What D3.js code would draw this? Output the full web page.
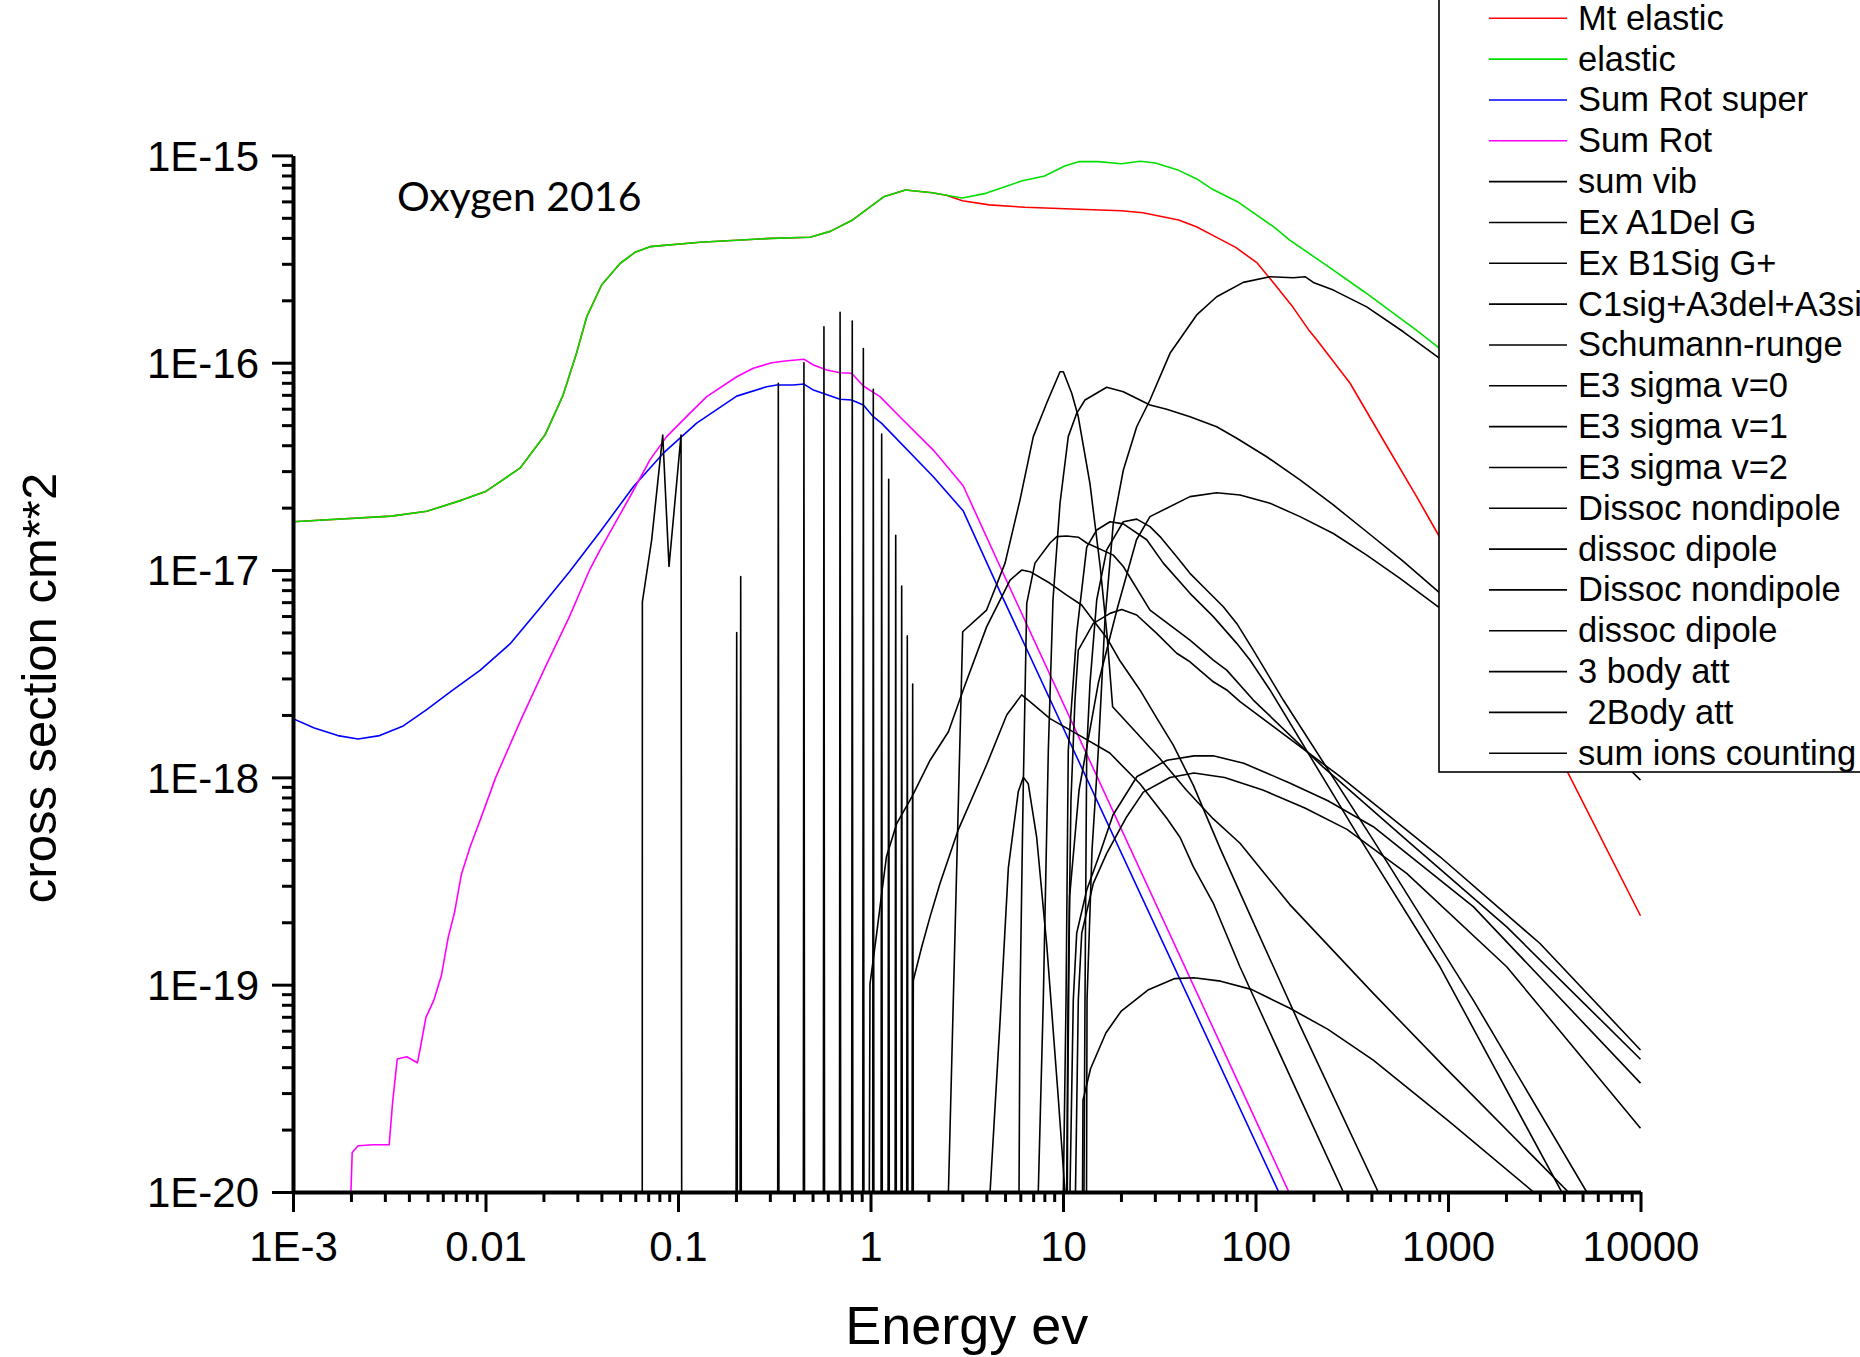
<!DOCTYPE html>
<meta charset="utf-8">
<script src="https://d3js.org/d3.v7.min.js"></script>
<style>
  body { margin: 0; background: #fff; }
</style>
<div id="chart"></div>
<script>
// energy in eV, cross section in cm^2
var energyTicks = [1e-3, 1e-2, 1e-1, 1, 10, 100, 1000, 10000];
var energyLabels = ["1E-3", "0.01", "0.1", "1", "10", "100", "1000", "10000"];
var sigmaTicks = [1e-20, 1e-19, 1e-18, 1e-17, 1e-16, 1e-15];
var sigmaLabels = ["1E-20", "1E-19", "1E-18", "1E-17", "1E-16", "1E-15"];

var legendNames = ["Mt elastic", "elastic", "Sum Rot super", "Sum Rot", "sum vib", "Ex A1Del G",
  "Ex B1Sig G+", "C1sig+A3del+A3sig", "Schumann-runge", "E3 sigma v=0", "E3 sigma v=1",
  "E3 sigma v=2", "Dissoc nondipole", "dissoc dipole", "Dissoc nondipole", "dissoc dipole",
  "3 body att", " 2Body att", "sum ions counting"];
var legendColors = ["#ff0000", "#00e000", "#0000ff", "#ff00ff", "#000", "#000", "#000", "#000",
  "#000", "#000", "#000", "#000", "#000", "#000", "#000", "#000", "#000", "#000", "#000"];

var mtElastic = [[0.001,1.71e-17],[0.00324,1.82e-17],[0.00496,1.92e-17],[0.0076,2.18e-17],[0.01,2.39e-17],
  [0.0151,3.10e-17],[0.0204,4.49e-17],[0.0253,6.98e-17],[0.0297,1.11e-16],[0.0336,1.67e-16],[0.0401,2.37e-16],
  [0.05,3.01e-16],[0.0598,3.41e-16],[0.0716,3.63e-16],[0.13,3.81e-16],[0.304,3.98e-16],[0.485,4.03e-16],
  [0.618,4.3e-16],[0.798,4.85e-16],[1.17,6.31e-16],[1.42,6.68e-16],[1.52,6.81e-16],[2.09,6.6e-16],
  [2.48,6.42e-16],[3.0,6.04e-16],[4.14,5.77e-16],[6.35,5.62e-16],[12.05,5.5e-16],[20.1,5.41e-16],
  [26.0,5.29e-16],[39.9,4.88e-16],[49.3,4.53e-16],[61.1,4.08e-16],[78.9,3.6e-16],[102,3.03e-16],
  [121,2.5e-16],[156,1.86e-16],[189,1.44e-16],[208,1.29e-16],[310,7.96e-17],[461,4.24e-17],
  [687,2.26e-17],[891,1.48e-17],[4200,1.05e-18],[10000,2.15e-19]];

var elastic = [[0.001,1.71e-17],[0.00324,1.82e-17],[0.00496,1.92e-17],[0.0076,2.18e-17],[0.01,2.39e-17],
  [0.0151,3.10e-17],[0.0204,4.49e-17],[0.0253,6.98e-17],[0.0297,1.11e-16],[0.0336,1.67e-16],[0.0401,2.37e-16],
  [0.05,3.01e-16],[0.0598,3.41e-16],[0.0716,3.63e-16],[0.13,3.81e-16],[0.304,3.98e-16],[0.485,4.03e-16],
  [0.618,4.3e-16],[0.798,4.85e-16],[1.17,6.31e-16],[1.42,6.68e-16],[1.52,6.81e-16],[2.09,6.6e-16],
  [3.0,6.23e-16],[3.97,6.56e-16],[4.91,7.02e-16],[6.08,7.52e-16],[8.02,7.96e-16],[10.2,8.89e-16],
  [12.05,9.33e-16],[15.2,9.33e-16],[20.1,9.12e-16],[25.1,9.37e-16],[30.2,9.19e-16],[39.9,8.47e-16],
  [49.3,7.72e-16],[59.8,6.86e-16],[80.6,5.98e-16],[124,4.53e-16],[150,3.91e-16],[240,2.9e-16],
  [367,2.2e-16],[682,1.44e-16],[887,1.19e-16],[3000,5e-17],[10000,2.2e-17]];

var sumRotSuper = [[0.001,1.92e-18],[0.00129,1.73e-18],[0.00171,1.59e-18],[0.00218,1.53e-18],[0.00282,1.59e-18],
  [0.00374,1.77e-18],[0.00497,2.13e-18],[0.00659,2.59e-18],[0.0094,3.29e-18],[0.0134,4.4e-18],[0.0191,6.53e-18],
  [0.0273,9.82e-18],[0.0394,1.53e-17],[0.0586,2.52e-17],[0.0839,3.66e-17],[0.125,5.11e-17],[0.2018,6.9e-17],
  [0.289,7.66e-17],[0.326,7.81e-17],[0.397,7.81e-17],[0.451,7.89e-17],[0.505,7.38e-17],[0.695,6.66e-17],
  [0.798,6.61e-17],[0.918,6.25e-17],[1.034,5.49e-17],[1.143,5.1e-17],[2.12,2.82e-17],[3.03,1.93e-17],
  [4.71,7.85e-18],[132,1e-20]];

var sumRot = [[0.002,1e-20],[0.00203,1.55e-20],[0.00218,1.67e-20],[0.00262,1.69e-20],[0.00316,1.69e-20],
  [0.00329,2.69e-20],[0.00348,4.38e-20],[0.0039,4.49e-20],[0.00443,4.2e-20],[0.00463,5.19e-20],[0.0049,6.93e-20],
  [0.0054,8.45e-20],[0.00589,1.1e-19],[0.00641,1.7e-19],[0.00689,2.21e-19],[0.0075,3.41e-19],[0.00828,4.56e-19],
  [0.00955,6.5e-19],[0.0113,1.0e-18],[0.01545,1.94e-18],[0.0205,3.42e-18],[0.0273,5.96e-18],[0.0347,1.0e-17],
  [0.0394,1.25e-17],[0.0575,2.34e-17],[0.0715,3.4e-17],[0.0873,4.4e-17],[0.113,5.6e-17],[0.141,6.86e-17],
  [0.2018,8.56e-17],[0.246,9.4e-17],[0.307,1.0e-16],[0.36,1.02e-16],[0.451,1.04e-16],[0.505,9.75e-17],
  [0.593,9.22e-17],[0.695,8.95e-17],[0.798,8.89e-17],[0.918,7.72e-17],[1.12,6.86e-17],[1.42,5.49e-17],
  [2.12,3.79e-17],[3.03,2.55e-17],[4.71,1.04e-17],[149,1e-20]];

// resonance peaks of the vibrational sum (zero between them)
var sumVibPeaks = [[0.2018,4.99e-18],[0.2117,9.29e-18],[0.332,7.96e-17],[0.451,1.0e-16],[0.573,1.49e-16],
  [0.695,1.75e-16],[0.804,1.59e-16],[0.918,1.17e-16],[1.034,7.44e-17],[1.143,4.53e-17],[1.243,2.74e-17],
  [1.352,1.47e-17],[1.452,8.37e-18],[1.553,4.82e-18],[1.656,2.82e-18]];

var exA1DelG = [[0.986,1e-20],[0.994,1.01e-19],[1.077,1.77e-19],[1.143,2.75e-19],[1.21,4.14e-19],[1.37,6.0e-19],
  [1.64,8.06e-19],[2.04,1.21e-18],[2.54,1.66e-18],[3.03,2.64e-18],[4.01,5.32e-18],[4.71,7.16e-18],[5.31,8.95e-18],
  [6.10,1.0e-17],[6.74,9.82e-18],[8.56,8.63e-18],[10.45,7.57e-18],[12.5,6.78e-18],[13.8,6.0e-18],[16.9,4.7e-18],
  [19.8,3.64e-18],[25.1,2.64e-18],[30.7,1.93e-18],[37.4,1.43e-18],[47.5,9.18e-19],[65.4,4.56e-19],
  [93.6,2.17e-19],[170,6.38e-20],[434,1e-20]];

var exB1SigG = [[1.656,1e-20],[1.669,1.05e-19],[1.845,1.52e-19],[2.04,2.13e-19],[2.30,3.09e-19],[2.86,5.6e-19],
  [4.01,1.15e-18],[5.10,2.0e-18],[6.1,2.5e-18],[6.88,2.28e-18],[8.56,1.92e-18],[11.8,1.62e-18],[17.5,1.31e-18],
  [25.1,9.31e-19],[34.6,6.35e-19],[40.6,5.13e-19],[47.5,3.71e-19],[60.4,2.47e-19],[83,1.22e-19],
  [170,2.85e-20],[286,1e-20]];

var c1sigA3 = [[5.91,1e-20],[5.98,8.43e-20],[6.2,7.77e-19],[6.48,6.91e-18],[7.15,1.08e-17],[8.56,1.35e-17],
  [9.28,1.45e-17],[10.45,1.46e-17],[12.01,1.44e-17],[13.28,1.35e-17],[18.25,1.18e-17],[20.57,1.04e-17],
  [28.31,6.41e-18],[45.67,4.59e-18],[60.37,3.68e-18],[70.87,3.29e-18],[97.4,2.36e-18],[225,1.12e-18],
  [610,4.98e-19],[2018,1.9e-19],[10000,4.37e-20]];

var schumannRunge = [[2.54,1e-20],[3.013,5.04e-18],[4.01,6.41e-18],[5.0,1.08e-17],[5.98,2.18e-17],[7.01,4.4e-17],
  [8.22,6.37e-17],[9.65,9.05e-17],[10.04,9.05e-17],[11.1,7.12e-17],[12.0,5.5e-17],[13.8,2.62e-17],[15.6,1.04e-17],
  [16.9,4.95e-18],[18.1,2.19e-18],[24.09,1.64e-18],[31.7,1.24e-18],[43.7,8.69e-19],[60.2,6.32e-19],
  [83.1,4.81e-19],[150.4,2.44e-19],[409.2,9.08e-20],[939,4.09e-20],[4216,1e-20]];

var e3SigmaV0 = [[10.04,1e-20],[10.37,8.43e-20],[10.65,1.35e-18],[10.87,1.75e-18],[11.78,4.95e-18],[13.28,1.29e-17],
  [14.97,1.56e-17],[17.55,1.71e-17],[20.57,1.67e-17],[27.22,1.4e-17],[33.19,1.08e-17],[45.67,7.72e-18],
  [60.37,5.96e-18],[79.88,4.43e-18],[93.6,3.68e-18],[118.9,2.64e-18],[335.6,5.37e-19],[908.6,1.22e-19],
  [3896,1e-20]];

var e3SigmaV1 = [[12.85,1e-20],[13.01,8.43e-20],[13.28,1.35e-18],[13.81,2.84e-18],[14.97,7.17e-18],[16.87,1.25e-17],
  [20.57,1.71e-17],[24.15,1.76e-17],[28.31,1.62e-17],[31.91,1.45e-17],[38.96,1.16e-17],[45.67,9.64e-18],
  [53.56,8.31e-18],[68.05,6.65e-18],[79.88,5.53e-18],[97.4,4.11e-18],[139.4,2.36e-18],[409.2,4.98e-19],
  [1353,8.43e-20],[5253,1e-20]];

var e3SigmaV2 = [[10.45,1e-20],[10.62,8.43e-20],[11.0,7.77e-19],[11.54,2.36e-18],[12.01,4.11e-18],[14.37,5.53e-18],
  [17.55,6.18e-18],[20.18,6.46e-18],[24.15,6.07e-18],[30.68,4.95e-18],[38.96,3.97e-18],[45.67,3.61e-18],
  [60.37,2.89e-18],[70.87,2.64e-18],[83.1,2.32e-18],[274.8,1.01e-18],[908.6,4.14e-19],[3006,1.58e-19],
  [10000,4.84e-20]];

var dissocNondipole1 = [[10.87,1e-20],[11.31,8.43e-20],[11.78,1.77e-19],[13.28,2.86e-19],[15.56,4.3e-19],
  [18.18,6.58e-19],[24.24,1.01e-18],[34.7,1.21e-18],[47.9,1.27e-18],[60.2,1.27e-18],[86.9,1.17e-18],
  [150.4,9.4e-19],[237.7,7.71e-19],[409.2,5.78e-19],[1353,2.38e-19],[10000,3.35e-20]];

var dissocDipole1 = [[7.44,1e-20],[7.90,8.43e-20],[8.39,1.35e-18],[8.87,7.17e-18],[9.65,2.1e-17],[10.65,4.4e-17],
  [11.78,5.7e-17],[13.01,6.61e-17],[16.87,7.61e-17],[20.57,7.24e-17],[28.31,6.25e-17],[34.57,5.96e-17],
  [45.67,5.49e-17],[62.87,4.91e-17],[79.88,4.32e-17],[114.3,3.52e-17],[170.3,2.72e-17],[253.7,2.06e-17],
  [378.2,1.53e-17],[586,1.1e-17],[890,7.86e-18],[3006,2.95e-18],[10000,9.7e-19]];

var dissocNondipole2 = [[11.61,1e-20],[12.01,8.43e-20],[12.51,1.77e-19],[14.37,3.08e-19],[16.87,4.3e-19],
  [21.43,6.46e-19],[26.13,8.49e-19],[35.96,9.98e-19],[47.9,1.05e-18],[69.1,9.98e-19],[109.1,8.69e-19],
  [180.5,7.11e-19],[298.8,5.61e-19],[610,3.44e-19],[2018,1.22e-19],[10000,2.03e-20]];

var dissocDipole2 = [[10.53,1e-20],[10.58,2.77e-20],[10.82,2.65e-19],[12.12,8.69e-19],[15.26,2.85e-18],
  [19.17,6.56e-18],[24.09,1.4e-17],[28.31,1.81e-17],[45.67,2.26e-17],[62.87,2.36e-17],[83.1,2.3e-17],
  [118.9,2.1e-17],[170.3,1.81e-17],[253.7,1.5e-17],[378.2,1.18e-17],[563,9.12e-18],[890,6.65e-18],
  [3006,2.64e-18],[10000,1.15e-18]];

var dissocWeak = [[12.63,1e-20],[12.7,2.77e-20],[13.9,3.93e-20],[16.7,5.85e-20],[20.0,7.43e-20],[27.6,9.42e-20],
  [38.1,1.07e-19],[47.9,1.08e-19],[65.9,1.04e-19],[95.1,9.49e-20],[150,7.72e-20],[238,6.09e-20],
  [409,4.33e-20],[1024,2.17e-20],[2780,1e-20]];

var threeBodyAtt = [[0.0652,1e-20],[0.0653,7.03e-18],[0.073,1.4e-17],[0.0833,4.48e-17],[0.0898,1.04e-17],
  [0.1037,4.48e-17],[0.1045,1e-20]];

var twoBodyAtt = [[4.18,1e-20],[4.71,6.67e-20],[5.20,3.65e-19],[5.86,8.55e-19],[6.22,1.0e-18],[6.60,9.31e-19],
  [7.30,5.13e-19],[8.23,1.56e-19],[9.45,2.85e-20],[10.24,1e-20]];

var sumIons = [[13.25,1e-20],[13.33,8.43e-20],[14.15,4.46e-19],[15.26,1.35e-18],[16.52,5.74e-18],[18.25,1.68e-17],
  [20.57,3.03e-17],[24.15,4.91e-17],[28.31,6.61e-17],[35.96,1.11e-16],[49.49,1.7e-16],[62.87,2.08e-16],
  [86.4,2.44e-16],[118.9,2.6e-16],[157.2,2.57e-16],[180.8,2.6e-16],[199.7,2.44e-16],[253.7,2.24e-16],
  [378.2,1.86e-16],[586,1.41e-16],[890,1.06e-16],[3006,4.24e-17],[10000,1.74e-17]];

var width = 1860, height = 1357;
var plotLeft = 293, plotRight = 1640.5, plotTop = 155.4, plotBottom = 1192;

var svg = d3.select("#chart")
  .append("svg")
  .attr("width", width)
  .attr("height", height)
  .style("display", "block");

svg.append("rect").attr("width", width).attr("height", height).attr("fill", "#fff");

var x = d3.scaleLog().domain([1e-3, 1e4]).range([plotLeft, plotRight]);
var y = d3.scaleLog().domain([1e-20, 1e-15]).range([plotBottom, plotTop]);

svg.append("clipPath").attr("id", "plotClip")
  .append("rect")
  .attr("x", plotLeft).attr("y", plotTop - 10)
  .attr("width", plotRight - plotLeft + 2).attr("height", plotBottom - plotTop + 10);

var line = d3.line()
  .x(function(d) { return x(d[0]); })
  .y(function(d) { return y(d[1]); });

// spikes of the vibrational sum drop back to the floor between resonances
var sumVib = [];
sumVibPeaks.forEach(function(p) {
  sumVib.push([p[0] * 0.993, 1e-20], [p[0], p[1]], [p[0] * 1.007, 1e-20]);
});

var series = [
  { data: mtElastic, color: "#ff0000" },
  { data: elastic, color: "#00e000" },
  { data: sumRotSuper, color: "#0000ff" },
  { data: sumRot, color: "#ff00ff" },
  { data: sumVib, color: "#000" },
  { data: exA1DelG, color: "#000" },
  { data: exB1SigG, color: "#000" },
  { data: c1sigA3, color: "#000" },
  { data: schumannRunge, color: "#000" },
  { data: e3SigmaV0, color: "#000" },
  { data: e3SigmaV1, color: "#000" },
  { data: e3SigmaV2, color: "#000" },
  { data: dissocNondipole1, color: "#000" },
  { data: dissocDipole1, color: "#000" },
  { data: dissocNondipole2, color: "#000" },
  { data: dissocDipole2, color: "#000" },
  { data: dissocWeak, color: "#000" },
  { data: threeBodyAtt, color: "#000" },
  { data: twoBodyAtt, color: "#000" },
  { data: sumIons, color: "#000" }
];

var curves = svg.append("g").attr("clip-path", "url(#plotClip)");
curves.selectAll("path")
  .data(series)
  .enter()
  .append("path")
  .attr("d", function(d) { return line(d.data); })
  .attr("fill", "none")
  .attr("stroke", function(d) { return d.color; })
  .attr("stroke-width", 1.6)
  .attr("stroke-linejoin", "round");

// minor tick positions 2..9 of every decade
var energyMinor = [], sigmaMinor = [];
energyTicks.slice(0, -1).forEach(function(t) { for (var k = 2; k < 10; k++) energyMinor.push(t * k); });
sigmaTicks.slice(0, -1).forEach(function(t) { for (var k = 2; k < 10; k++) sigmaMinor.push(t * k); });

var tickFont = "'Liberation Sans', Arial, sans-serif";

var xMinor = svg.append("g").attr("transform", "translate(0," + plotBottom + ")")
  .call(d3.axisBottom(x).tickValues(energyMinor).tickSize(10).tickSizeOuter(0).tickFormat(""));
xMinor.select(".domain").remove();
xMinor.selectAll("line").attr("stroke-width", 3);

var xAxis = svg.append("g").attr("transform", "translate(0," + plotBottom + ")")
  .call(d3.axisBottom(x).tickValues(energyTicks).tickSize(20).tickSizeOuter(0).tickPadding(19)
    .tickFormat(function(d, i) { return energyLabels[i]; }));
xAxis.select(".domain").attr("stroke-width", 4);
xAxis.selectAll("line").attr("stroke-width", 3);
xAxis.selectAll("text").attr("font-family", tickFont).attr("font-size", 42).attr("fill", "#000");

var yMinor = svg.append("g").attr("transform", "translate(" + plotLeft + ",0)")
  .call(d3.axisLeft(y).tickValues(sigmaMinor).tickSize(11).tickSizeOuter(0).tickFormat(""));
yMinor.select(".domain").remove();
yMinor.selectAll("line").attr("stroke-width", 3);

var yAxis = svg.append("g").attr("transform", "translate(" + plotLeft + ",0)")
  .call(d3.axisLeft(y).tickValues(sigmaTicks).tickSize(21).tickSizeOuter(0).tickPadding(13)
    .tickFormat(function(d, i) { return sigmaLabels[i]; }));
yAxis.select(".domain").attr("stroke-width", 4);
yAxis.selectAll("line").attr("stroke-width", 3);
yAxis.selectAll("text").attr("font-family", tickFont).attr("font-size", 42)
  .attr("dy", "0.35em").attr("fill", "#000");

// axis titles
svg.append("text")
  .attr("x", (plotLeft + plotRight) / 2)
  .attr("y", 1344)
  .attr("text-anchor", "middle")
  .attr("font-family", tickFont)
  .attr("font-size", 54)
  .text("Energy ev");

svg.append("text")
  .attr("transform", "translate(56,688) rotate(-90)")
  .attr("text-anchor", "middle")
  .attr("font-family", tickFont)
  .attr("font-size", 49)
  .text("cross section cm**2");

svg.append("text")
  .attr("x", 397)
  .attr("y", 211)
  .attr("font-family", "Lato, 'Open Sans', sans-serif")
  .attr("font-size", 41)
  .text("Oxygen 2016");

// legend box, cut by the right and top edges as in the original
var legendX = 1439, legendBottom = 772, rowTop = 18.3, rowStep = 40.83;
svg.append("rect")
  .attr("x", legendX).attr("y", -10)
  .attr("width", 600).attr("height", legendBottom + 10)
  .attr("fill", "#fff").attr("stroke", "#000").attr("stroke-width", 1.6);

var legend = svg.selectAll(".legendItem")
  .data(legendNames)
  .enter()
  .append("g")
  .attr("class", "legendItem")
  .attr("transform", function(d, i) { return "translate(0," + (rowTop + i * rowStep) + ")"; });

legend.append("line")
  .attr("x1", 1489).attr("x2", 1567)
  .attr("stroke", function(d, i) { return legendColors[i]; })
  .attr("stroke-width", 1.6);

legend.append("text")
  .attr("x", 1578)
  .attr("y", 11.5)
  .attr("font-family", tickFont)
  .attr("font-size", 34.5)
  .style("white-space", "pre")
  .text(function(d) { return d; });
</script>
